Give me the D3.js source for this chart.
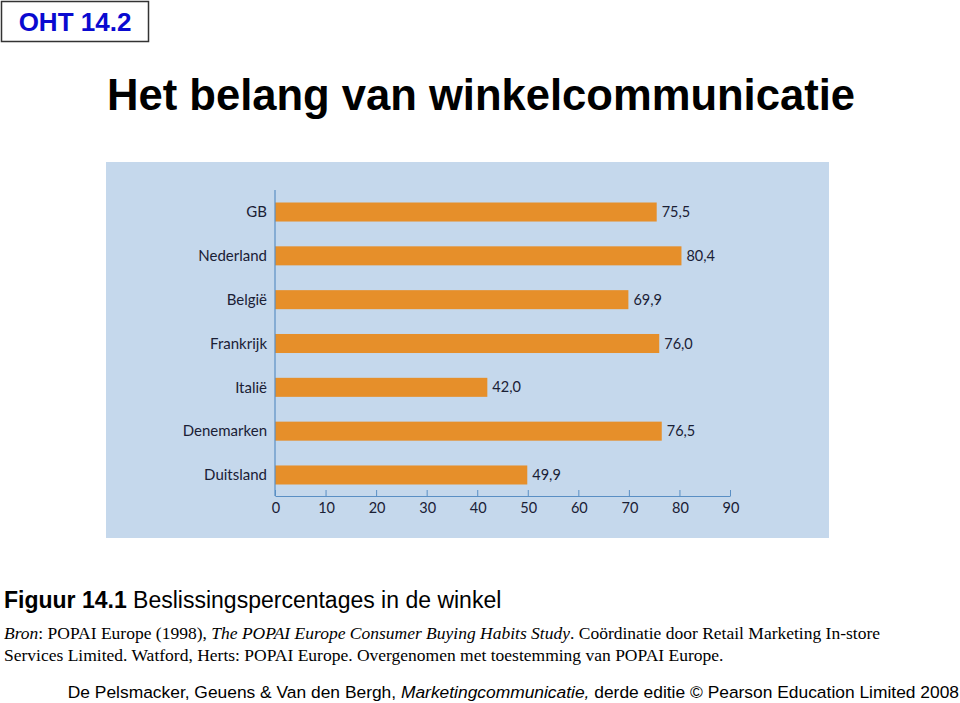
<!DOCTYPE html>
<html><head><meta charset="utf-8">
<script src="https://cdn.jsdelivr.net/npm/d3@7"></script>
<style>body{margin:0;background:#fff}svg{display:block}</style>
</head><body>
<script>
const categories = ["GB","Nederland","België","Frankrijk","Italië","Denemarken","Duitsland"];
const values = [75.5,80.4,69.9,76.0,42.0,76.5,49.9];
const valueLabels = ["75,5","80,4","69,9","76,0","42,0","76,5","49,9"];
const ticks = [0,10,20,30,40,50,60,70,80,90];

const W=960,H=703;
const svg=d3.select("body").append("svg").attr("width",W).attr("height",H);

// OHT box
svg.append("rect").attr("x",1.5).attr("y",1.5).attr("width",147).attr("height",40)
  .attr("fill","#fff").attr("stroke","#333").attr("stroke-width",1.5);
svg.append("text").attr("x",75).attr("y",31).attr("text-anchor","middle")
  .attr("font-family","Liberation Sans, Arial, sans-serif").attr("font-weight","bold")
  .attr("font-size",26).attr("fill","#0a0ad0").text("OHT 14.2");

svg.append("text").attr("x",107).attr("y",110)
  .attr("font-family","Liberation Sans, Arial, sans-serif").attr("font-weight","bold")
  .attr("font-size",44).attr("textLength",748).attr("lengthAdjust","spacingAndGlyphs")
  .attr("fill","#000").text("Het belang van winkelcommunicatie");

// panel
svg.append("rect").attr("x",106).attr("y",162).attr("width",723).attr("height",376).attr("fill","#c5d8ec");

const x=d3.scaleLinear().domain([0,90]).range([275,730]);
const y=d3.scaleBand().domain(categories).range([202.5,484.5]).paddingInner(0.566).paddingOuter(0);

const lf="Lato, 'Open Sans', sans-serif";
const g=svg.append("g");
g.selectAll("rect.bar").data(categories).join("rect").attr("class","bar")
  .attr("x",x(0)).attr("y",d=>y(d)).attr("height",y.bandwidth())
  .attr("width",(d,i)=>x(values[i])-x(0)).attr("fill","#e68f2a");
g.selectAll("text.val").data(categories).join("text").attr("class","val")
  .attr("x",(d,i)=>x(values[i])+5).attr("y",d=>y(d)+y.bandwidth()/2).attr("dy","0.35em")
  .attr("font-family",lf).attr("font-size",14.5).attr("fill","#1a2035")
  .text((d,i)=>valueLabels[i]);
g.selectAll("text.cat").data(categories).join("text").attr("class","cat")
  .attr("x",267).attr("y",d=>y(d)+y.bandwidth()/2).attr("dy","0.35em").attr("text-anchor","end")
  .attr("font-family",lf).attr("font-size",15).attr("fill","#1a2035").text(d=>d);

// axes
const axisColor="#5a8fc4";
svg.append("line").attr("x1",275).attr("x2",275).attr("y1",190).attr("y2",496)
  .attr("stroke",axisColor).attr("stroke-width",1.2);
const xa=svg.append("g").attr("transform","translate(0,496)")
  .call(d3.axisTop(x).tickValues(ticks).tickSize(6).tickSizeOuter(0).tickFormat(""));
xa.select(".domain").attr("stroke",axisColor).attr("stroke-width",1.2);
xa.selectAll(".tick line").attr("stroke",axisColor);
svg.selectAll("text.tl").data(ticks).join("text").attr("class","tl")
  .attr("x",d=>x(d)+1).attr("y",508).attr("dy","0.35em").attr("text-anchor","middle")
  .attr("font-family",lf).attr("font-size",14.5).attr("fill","#1a2035").text(d=>d);

// caption
const cap=svg.append("text").attr("x",4).attr("y",608)
  .attr("font-family","Liberation Sans, Arial, sans-serif").attr("font-size",23).attr("fill","#000");
cap.append("tspan").attr("font-weight","bold").text("Figuur 14.1");
cap.append("tspan").text(" Beslissingspercentages in de winkel");

const tf="Liberation Serif, 'Times New Roman', serif";
const s1=svg.append("text").attr("x",4).attr("y",639).attr("font-family",tf).attr("font-size",17.5).attr("fill","#000");
s1.append("tspan").attr("font-style","italic").text("Bron");
s1.append("tspan").text(": POPAI Europe (1998), ");
s1.append("tspan").attr("font-style","italic").text("The POPAI Europe Consumer Buying Habits Study");
s1.append("tspan").text(". Coördinatie door Retail Marketing In-store");
svg.append("text").attr("x",4).attr("y",661).attr("font-family",tf).attr("font-size",17.5).attr("fill","#000")
  .text("Services Limited. Watford, Herts: POPAI Europe. Overgenomen met toestemming van POPAI Europe.");

const f=svg.append("text").attr("x",959).attr("y",698).attr("text-anchor","end")
  .attr("font-family","Liberation Sans, Arial, sans-serif").attr("font-size",17.4).attr("fill","#000");
f.append("tspan").text("De Pelsmacker, Geuens & Van den Bergh, ");
f.append("tspan").attr("font-style","italic").text("Marketingcommunicatie,");
f.append("tspan").text(" derde editie © Pearson Education Limited 2008");
</script>
</body></html>
